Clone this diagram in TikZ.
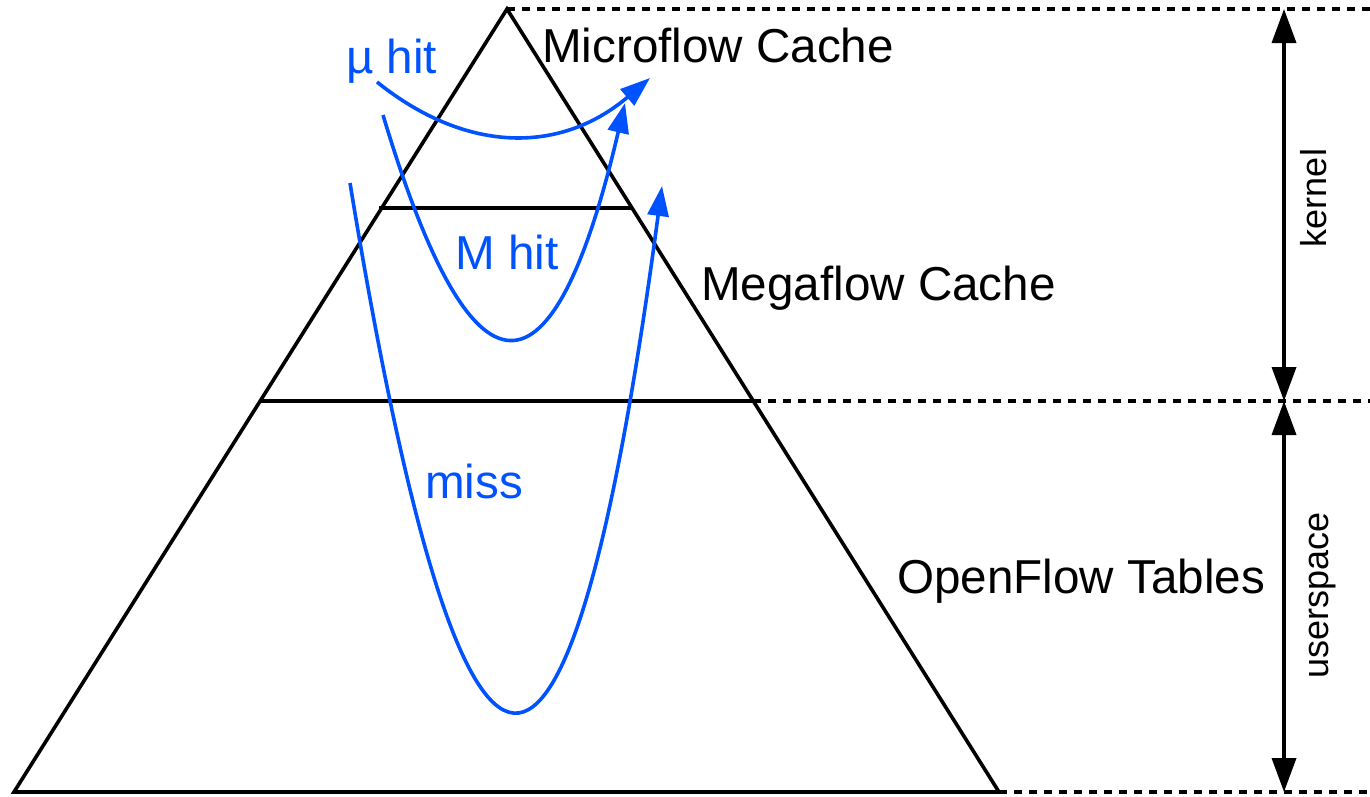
\documentclass[tikz,border=0pt]{standalone}
\usepackage{fontspec}
\setmainfont{Liberation Sans}
\usetikzlibrary{arrows.meta}
\definecolor{flowblue}{RGB}{0,82,255}

\tikzset{
  tier/.style={draw=black, line width=3.6pt, line join=miter},
  boundary/.style={draw=black, line width=3.6pt, dash pattern=on 8pt off 7pt},
  span/.style={draw=black, line width=3.6pt, {Triangle[length=34pt,width=24pt]}-{Triangle[length=34pt,width=24pt]}},
  flow/.style={draw=flowblue, line width=3.6pt, -{Triangle[length=30pt,width=21pt]}},
  cachelabel/.style={anchor=base west, inner sep=0pt, font=\fontsize{47.6}{57}\selectfont},
  flowlabel/.style={cachelabel, text=flowblue},
  sidelabel/.style={inner sep=0pt, rotate=90, font=\fontsize{36}{43}\selectfont},
}

\begin{document}
\begin{tikzpicture}[x=1pt, y=-1pt]
\useasboundingbox (0,0) rectangle (1370,796);

% pyramid corners and tier boundaries
\coordinate (apex) at (507,9);
\coordinate (bl) at (14,792);
\coordinate (br) at (999,792);
\coordinate (m1l) at (379,208);
\coordinate (m1r) at (631,208);
\coordinate (m2l) at (260,401);
\coordinate (m2r) at (753,401);

% right-hand ends of the dashed level lines
\coordinate (topR) at (1370,9);
\coordinate (midR) at (1370,401);
\coordinate (botR) at (1370,792);

% kernel / userspace extents
\coordinate (kTop) at (1284,9);
\coordinate (kBot) at (1284,401);
\coordinate (uTop) at (1284,401);
\coordinate (uBot) at (1284,792);

% pyramid
\draw[tier] (bl) -- (apex) -- (br) -- cycle;
\draw[tier] (m1l) -- (m1r);
\draw[tier] (m2l) -- (m2r);

% level lines
\draw[boundary] (apex) -- (topR);
\draw[boundary] (m2r) -- (midR);
\draw[boundary] (br) -- (botR);

% kernel / userspace spans
\draw[span] (kTop) -- (kBot);
\draw[span] (uTop) -- (uBot);
\node[sidelabel] (kernel) at (1314,198) {kernel};
\node[sidelabel] (userspace) at (1323,595) {userspace};

% tier names
\node[cachelabel] (micro) at (542,62) {Microflow Cache};
\node[cachelabel] (mega) at (701,300) {Megaflow Cache};
\node[cachelabel] (ofl) at (897,593) {OpenFlow Tables};

% lookup paths
\coordinate (uS) at (377,82);
\coordinate (uE) at (650,78);
\coordinate (mS) at (383,115);
\coordinate (mE) at (625,103);
\coordinate (xS) at (350,183);
\coordinate (xE) at (662,186);

\draw[flow] (uS) .. controls (468,155) and (562,153) .. (uE);
\draw[flow] (mS) .. controls (473,415) and (553,411) .. (mE);
\draw[flow] (xS) .. controls (465,884) and (569,885) .. (xE);

\node[flowlabel] (uhit) at (346,73) {µ hit};
\node[flowlabel] (mhit) at (455,269) {M hit};
\node[flowlabel] (miss) at (425,498) {miss};
\end{tikzpicture}
\end{document}
